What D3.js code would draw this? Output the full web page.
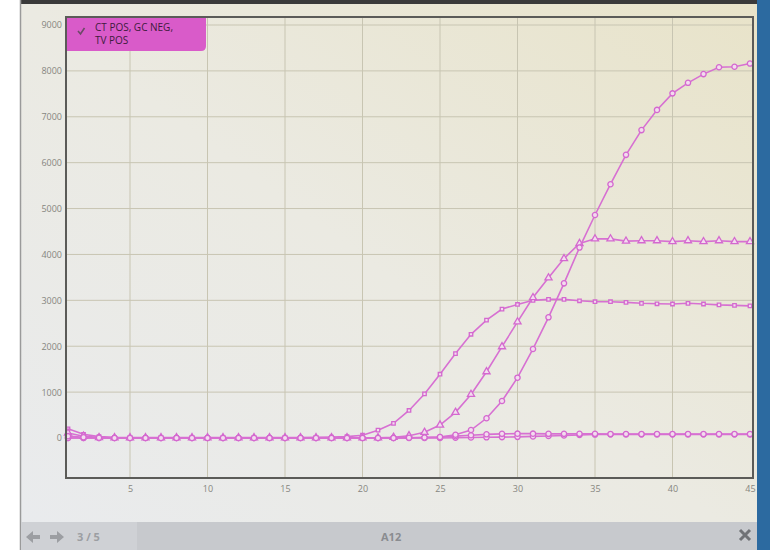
<!DOCTYPE html>
<html>
<head>
<meta charset="utf-8">
<title>A12 amplification</title>
<script src="https://d3js.org/d3.v7.min.js"></script>
<style>
  body { margin: 0; background: #fff; }
  text { font-family: "Open Sans", "DejaVu Sans", sans-serif; }
  .tick-label { font-size: 9px; fill: #86867f; }
  .curve { fill: none; stroke: #d770d2; stroke-width: 1.6px; }
  .marker { fill: #f3dcef; stroke: #d468cf; stroke-width: 1.3px; }
</style>
</head>
<body>
<div id="chart"></div>
<script>
// amplification values, cycles 1..45
const cycles = d3.range(1, 46);
const curveA = [200, 80, 30, 15, 10, 10, 10, 10, 10, 10, 10, 10, 10, 10, 10, 10, 15, 20, 30, 60,
  170, 320, 600, 960, 1390, 1840, 2260, 2570, 2810, 2910, 3000, 3020, 3020, 2990, 2970, 2970,
  2955, 2935, 2925, 2920, 2935, 2920, 2900, 2890, 2880];
const curveB = [110, 40, 10, 5, 5, 5, 5, 5, 5, 5, 5, 5, 5, 5, 5, 5, 5, 5, 5, 5,
  5, 15, 50, 124, 283, 560, 950, 1445, 1990, 2530, 3060, 3490, 3910, 4240, 4340, 4340,
  4290, 4300, 4300, 4280, 4300, 4280, 4300, 4280, 4280];
const curveC = [40, 15, 5, 0, 0, 0, 0, 0, 0, 0, 0, 0, 0, 0, 0, 0, 0, 0, 0, 0,
  0, 0, 5, 10, 20, 70, 174, 430, 806, 1314, 1940, 2630, 3370, 4150, 4860, 5530,
  6170, 6710, 7150, 7510, 7740, 7930, 8080, 8090, 8160];
const curveD = [0, 0, 0, 0, 0, 0, 0, 0, 0, 0, 0, 0, 0, 0, 0, 0, 0, 0, 0, 0,
  0, 0, 5, 10, 20, 40, 60, 80, 90, 95, 95, 90, 90, 90, 90, 85,
  85, 85, 85, 85, 85, 85, 85, 85, 85];
const curveE = [0, 0, 0, 0, 0, 0, 0, 0, 0, 0, 0, 0, 0, 0, 0, 0, 0, 0, 0, 0,
  0, 0, 0, 0, 0, 5, 10, 15, 20, 25, 35, 45, 55, 65, 75, 80,
  80, 80, 80, 80, 80, 80, 80, 80, 80];
const yTicks = d3.range(0, 10000, 1000);
const xTicks = [5, 10, 15, 20, 25, 30, 35, 40, 45];
const legendLines = ['CT POS, GC NEG,', 'TV POS'];
const pageLabel = '3 / 5';
const wellLabel = 'A12';

const W = 770, H = 550;
const frame = { left: 66, top: 17, right: 753, bottom: 478 };

const svg = d3.select('#chart').append('svg')
  .attr('width', W).attr('height', H);

// screen background (photo of a monitor)
const defs = svg.append('defs');
const grad = defs.append('linearGradient').attr('id', 'screen')
  .attr('x1', 0).attr('y1', 1).attr('x2', 1).attr('y2', 0);
grad.append('stop').attr('offset', 0).attr('stop-color', '#e9ebee');
grad.append('stop').attr('offset', 0.5).attr('stop-color', '#ebeae2');
grad.append('stop').attr('offset', 1).attr('stop-color', '#e8e3c9');

svg.append('rect').attr('x', 0).attr('y', 0).attr('width', W).attr('height', H).attr('fill', '#ffffff');
svg.append('rect').attr('x', 757).attr('y', 0).attr('width', 13).attr('height', H).attr('fill', '#2c6aa0');
svg.append('rect').attr('x', 20).attr('y', 0).attr('width', 737).attr('height', 4).attr('fill', '#3a3a3a');
svg.append('rect').attr('x', 20).attr('y', 4).attr('width', 737).attr('height', H - 4).attr('fill', 'url(#screen)');
svg.append('line').attr('x1', 20.5).attr('x2', 20.5).attr('y1', 0).attr('y2', H)
  .attr('stroke', '#9a9a9a').attr('stroke-width', 1.5);

const x = d3.scaleLinear().domain([1, 45]).range([68, 750]);
const y = d3.scaleLinear().domain([0, 9000]).range([438, 25]);

// grid
const grid = svg.append('g').attr('stroke', '#c8c5b2').attr('stroke-width', 1);
grid.selectAll('.gx').data(xTicks.filter(d => d < 45)).join('line')
  .attr('x1', d => x(d)).attr('x2', d => x(d))
  .attr('y1', frame.top).attr('y2', frame.bottom);
grid.selectAll('.gy').data(yTicks.filter(d => d > 0)).join('line')
  .attr('x1', frame.left).attr('x2', frame.right)
  .attr('y1', d => y(d)).attr('y2', d => y(d));

// axes
const yAxis = svg.append('g').attr('transform', `translate(${frame.left},0)`)
  .call(d3.axisLeft(y).tickValues(yTicks).tickFormat(d3.format('d')).tickSize(0).tickPadding(4));
yAxis.select('.domain').remove();
yAxis.selectAll('text').attr('class', 'tick-label').attr('fill', null);

const xAxis = svg.append('g').attr('transform', `translate(0,${frame.bottom})`)
  .call(d3.axisBottom(x).tickValues(xTicks).tickSize(0).tickPadding(8));
xAxis.select('.domain').remove();
xAxis.selectAll('text').attr('class', 'tick-label').attr('fill', null);

// curves
const series = [
  { values: curveE, shape: 'circle' },
  { values: curveD, shape: 'circle' },
  { values: curveA, shape: 'square' },
  { values: curveB, shape: 'triangle' },
  { values: curveC, shape: 'circle' }
];
const line = d3.line().x((d, i) => x(cycles[i])).y(d => y(d));
const symbolType = { circle: d3.symbolCircle, square: d3.symbolSquare, triangle: d3.symbolTriangle };
const symbolSize = { circle: 22, square: 12, triangle: 22 };

series.forEach(s => {
  svg.append('path').datum(s.values).attr('class', 'curve').attr('d', line);
  svg.append('g').selectAll('path').data(s.values).join('path')
    .attr('class', 'marker')
    .attr('transform', (d, i) => `translate(${x(cycles[i])},${y(d)})`)
    .attr('d', d3.symbol().type(symbolType[s.shape]).size(symbolSize[s.shape]));
});

// plot frame
svg.append('rect')
  .attr('x', frame.left).attr('y', frame.top)
  .attr('width', frame.right - frame.left).attr('height', frame.bottom - frame.top)
  .attr('fill', 'none').attr('stroke', '#5b5b58').attr('stroke-width', 2);

// legend
const lg = svg.append('g').attr('transform', `translate(${frame.left + 1},${frame.top + 1})`);
lg.append('path')
  .attr('d', 'M0,0 H139 V28 Q139,33 134,33 H0 Z')
  .attr('fill', '#d95bc9');
lg.append('path').attr('d', 'M11,13 l2.5,3 l4,-6')
  .attr('fill', 'none').attr('stroke', '#6b4a66').attr('stroke-width', 1.6);
lg.selectAll('text').data(legendLines).join('text')
  .attr('x', 28).attr('y', (d, i) => 13 + i * 13)
  .attr('font-size', 10).attr('fill', '#3e1c3c')
  .text(d => d);

// bottom bar
svg.append('rect').attr('x', 21).attr('y', 522).attr('width', 736).attr('height', 28).attr('fill', '#c7c9cd');
svg.append('rect').attr('x', 21).attr('y', 522).attr('width', 116).attr('height', 28).attr('fill', '#cfd1d5');
const nav = svg.append('g').attr('fill', '#9c9ea2');
nav.append('path').attr('d', 'M26,537 l7,-6 v4 h7 v4 h-7 v4 z');
nav.append('path').attr('d', 'M64,537 l-7,-6 v4 h-7 v4 h7 v4 z');
svg.append('text').attr('x', 77).attr('y', 541).attr('font-size', 11).attr('font-weight', 700)
  .attr('fill', '#9c9ea2').text(pageLabel);
svg.append('text').attr('x', 381).attr('y', 541).attr('font-size', 11).attr('font-weight', 700)
  .attr('fill', '#8a8c90').text(wellLabel);
svg.append('path').attr('d', 'M740,530 l10,10 M750,530 l-10,10')
  .attr('stroke', '#707276').attr('stroke-width', 3);
</script>
</body>
</html>
